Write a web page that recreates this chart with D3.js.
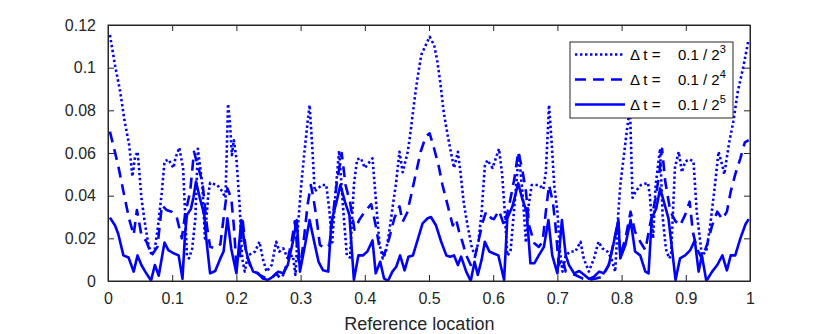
<!DOCTYPE html>
<html>
<head>
<meta charset="utf-8">
<script src="https://cdn.jsdelivr.net/npm/d3@7"></script>
<style>
  body { margin: 0; background: #fff; }
  svg { display: block; font-family: "Liberation Sans", Arial, sans-serif; }
</style>
</head>
<body>
<svg id="chart" width="830" height="334"></svg>
<script>
// x ticks, y ticks
var xTicks = [0, 0.1, 0.2, 0.3, 0.4, 0.5, 0.6, 0.7, 0.8, 0.9, 1];
var yTicks = [0, 0.02, 0.04, 0.06, 0.08, 0.1, 0.12];
var legendLabels = ["3", "4", "5"]; // exponent in 0.1/2^k

// dt = 0.1/2^3  (dotted)
var dotted = [
  [0.003,0.1153],[0.011,0.101],[0.019,0.0888],[0.026,0.0747],[0.033,0.0638],[0.038,0.049],
  [0.042,0.058],[0.046,0.0606],[0.048,0.054],[0.052,0.039],[0.058,0.026],[0.063,0.017],
  [0.068,0.012],[0.073,0.015],[0.078,0.026],[0.084,0.042],[0.088,0.056],[0.094,0.057],
  [0.102,0.053],[0.105,0.0575],[0.111,0.0625],[0.117,0.053],[0.120,0.0325],[0.123,0.012],
  [0.126,0.0106],[0.131,0.015],[0.136,0.029],[0.140,0.062],[0.147,0.045],[0.151,0.020],
  [0.156,0.040],[0.159,0.046],[0.170,0.045],[0.178,0.042],[0.183,0.039],[0.187,0.083],
  [0.190,0.074],[0.193,0.059],[0.196,0.066],[0.200,0.0575],[0.205,0.0356],[0.209,0.0106],
  [0.213,0.0044],[0.218,0.012],[0.229,0.0138],[0.236,0.0184],[0.241,0.0106],[0.247,0.0044],
  [0.255,0.0075],[0.262,0.0184],[0.267,0.0138],[0.273,0.0153],[0.280,0.0106],[0.288,0.012],
  [0.292,0.0028],[0.296,0.026],[0.301,0.045],[0.306,0.0606],[0.311,0.0747],[0.314,0.0825],
  [0.318,0.0638],[0.322,0.042],[0.327,0.0434],[0.333,0.045],[0.340,0.045],[0.345,0.0325],
  [0.349,0.017],[0.354,0.040],[0.360,0.061],[0.366,0.035],[0.372,0.012],[0.377,0.011],
  [0.383,0.045],[0.388,0.057],[0.394,0.0575],[0.400,0.053],[0.412,0.0575],[0.417,0.039],
  [0.423,0.017],[0.428,0.0106],[0.433,0.0138],[0.438,0.023],[0.443,0.034],[0.449,0.0466],
  [0.454,0.0606],[0.459,0.051],[0.467,0.0606],[0.472,0.0716],[0.477,0.084],[0.482,0.095],
  [0.488,0.106],[0.495,0.1106],[0.501,0.1145],[0.508,0.1106],[0.513,0.103],[0.518,0.092],
  [0.523,0.079],[0.529,0.0684],[0.534,0.0606],[0.539,0.053],[0.545,0.0606],[0.549,0.051],
  [0.554,0.037],[0.560,0.026],[0.567,0.0153],[0.572,0.012],[0.577,0.0184],[0.582,0.0325],
  [0.587,0.054],[0.591,0.0567],[0.599,0.053],[0.609,0.062],[0.614,0.050],[0.618,0.0325],
  [0.622,0.012],[0.627,0.0138],[0.633,0.035],[0.640,0.060],[0.646,0.040],[0.651,0.018],
  [0.655,0.035],[0.660,0.045],[0.672,0.045],[0.678,0.043],[0.682,0.051],[0.687,0.0825],
  [0.691,0.065],[0.695,0.045],[0.700,0.0325],[0.704,0.0138],[0.708,0.0044],[0.713,0.012],
  [0.720,0.0138],[0.728,0.0138],[0.736,0.0184],[0.741,0.0106],[0.749,0.0044],[0.757,0.0106],
  [0.764,0.0184],[0.770,0.0153],[0.778,0.0138],[0.784,0.0106],[0.790,0.0044],[0.795,0.0325],
  [0.798,0.045],[0.806,0.065],[0.813,0.082],[0.817,0.039],[0.822,0.042],[0.830,0.045],
  [0.841,0.046],[0.844,0.040],[0.849,0.020],[0.853,0.045],[0.860,0.062],[0.864,0.030],
  [0.869,0.015],[0.874,0.0106],[0.877,0.012],[0.883,0.053],[0.889,0.0606],[0.894,0.051],
  [0.899,0.056],[0.906,0.057],[0.912,0.056],[0.917,0.0325],[0.925,0.012],[0.932,0.014],
  [0.938,0.026],[0.946,0.0466],[0.951,0.0606],[0.957,0.054],[0.960,0.050],[0.967,0.064],
  [0.974,0.0747],[0.981,0.0888],[0.990,0.101],[0.997,0.112]
];

// dt = 0.1/2^4  (dashed)
var dashed = [
  [0.003,0.070],[0.016,0.054],[0.024,0.042],[0.033,0.029],[0.040,0.0216],[0.045,0.0333],
  [0.052,0.0216],[0.060,0.0184],[0.068,0.012],[0.077,0.016],[0.084,0.0356],[0.091,0.0333],
  [0.099,0.0325],[0.107,0.030],[0.115,0.020],[0.120,0.031],[0.128,0.042],[0.134,0.0606],
  [0.141,0.0528],[0.147,0.0466],[0.154,0.026],[0.159,0.016],[0.167,0.0153],[0.175,0.0172],
  [0.180,0.0294],[0.186,0.0434],[0.192,0.0388],[0.196,0.026],[0.200,0.0075],[0.205,0.0106],
  [0.210,0.028],[0.215,0.0138],[0.221,0.0075],[0.227,0.005],[0.236,0.0028],[0.247,0.0012],
  [0.255,0.0016],[0.262,0.0036],[0.270,0.0005],[0.278,0.0075],[0.286,0.0184],[0.291,0.028],
  [0.296,0.0106],[0.300,0.0075],[0.306,0.022],[0.311,0.036],[0.316,0.045],[0.320,0.0388],
  [0.325,0.029],[0.330,0.017],[0.337,0.0153],[0.345,0.017],[0.350,0.030],[0.356,0.045],
  [0.364,0.060],[0.370,0.045],[0.377,0.037],[0.384,0.024],[0.392,0.029],[0.400,0.0325],
  [0.410,0.036],[0.417,0.026],[0.423,0.0153],[0.430,0.012],[0.438,0.020],[0.446,0.0294],
  [0.454,0.035],[0.459,0.0278],[0.466,0.032],[0.472,0.040],[0.480,0.051],[0.487,0.0606],
  [0.495,0.0677],[0.501,0.0692],[0.508,0.062],[0.515,0.054],[0.521,0.045],[0.529,0.0356],
  [0.537,0.026],[0.542,0.029],[0.547,0.023],[0.552,0.0184],[0.558,0.012],[0.565,0.0075],
  [0.571,0.0106],[0.578,0.020],[0.584,0.028],[0.589,0.0325],[0.597,0.0294],[0.601,0.029],
  [0.609,0.033],[0.617,0.026],[0.625,0.0356],[0.633,0.048],[0.639,0.0606],[0.645,0.0528],
  [0.651,0.042],[0.656,0.026],[0.664,0.0177],[0.671,0.016],[0.677,0.0184],[0.682,0.0325],
  [0.687,0.045],[0.693,0.037],[0.697,0.026],[0.702,0.0075],[0.708,0.0106],[0.713,0.0044],
  [0.728,0.0028],[0.739,0.0012],[0.749,0.0005],[0.760,0.0012],[0.770,0.002],[0.780,0.0075],
  [0.788,0.0184],[0.795,0.028],[0.798,0.012],[0.806,0.020],[0.814,0.0325],[0.821,0.023],
  [0.829,0.0184],[0.837,0.0145],[0.844,0.026],[0.853,0.0388],[0.859,0.0512],[0.863,0.062],
  [0.868,0.0466],[0.876,0.0325],[0.884,0.028],[0.891,0.026],[0.899,0.031],[0.906,0.0372],
  [0.911,0.023],[0.917,0.0153],[0.925,0.0106],[0.933,0.017],[0.941,0.026],[0.949,0.0325],
  [0.957,0.029],[0.964,0.0325],[0.970,0.042],[0.977,0.050],[0.985,0.0575],[0.992,0.065],
  [0.998,0.066]
];

// dt = 0.1/2^5  (solid)
var solid = [
  [0.003,0.0297],[0.011,0.026],[0.016,0.022],[0.024,0.012],[0.032,0.011],[0.040,0.0044],
  [0.046,0.012],[0.052,0.0075],[0.058,0.0044],[0.067,0.0002],[0.073,0.0075],[0.079,0.0025],
  [0.088,0.018],[0.094,0.0145],[0.102,0.013],[0.110,0.012],[0.116,0.001],[0.120,0.022],
  [0.123,0.031],[0.129,0.0337],[0.133,0.039],[0.137,0.0466],[0.143,0.039],[0.150,0.031],
  [0.153,0.020],[0.159,0.0036],[0.167,0.0047],[0.175,0.0106],[0.180,0.0138],[0.186,0.0294],
  [0.192,0.015],[0.200,0.0036],[0.2077,0.0286],[0.213,0.017],[0.218,0.0106],[0.226,0.0044],
  [0.234,0.0036],[0.241,0.0012],[0.249,0.0005],[0.257,0.002],[0.265,0.0044],[0.273,0.0036],
  [0.280,0.0075],[0.288,0.0184],[0.294,0.0286],[0.299,0.0044],[0.307,0.017],[0.314,0.0286],
  [0.320,0.020],[0.328,0.009],[0.335,0.005],[0.343,0.0044],[0.348,0.0278],[0.356,0.0372],
  [0.362,0.045],[0.369,0.0372],[0.376,0.031],[0.383,0.0005],[0.390,0.012],[0.397,0.012],
  [0.404,0.0138],[0.412,0.019],[0.417,0.0036],[0.424,0.009],[0.430,0.0012],[0.436,0.0],
  [0.443,0.0044],[0.449,0.0067],[0.455,0.012],[0.462,0.005],[0.468,0.0114],[0.475,0.012],
  [0.483,0.020],[0.490,0.027],[0.498,0.0294],[0.503,0.030],[0.511,0.026],[0.519,0.0184],
  [0.527,0.012],[0.533,0.0114],[0.539,0.012],[0.545,0.0075],[0.550,0.0114],[0.558,0.0044],
  [0.565,0.0],[0.571,0.009],[0.576,0.0028],[0.582,0.010],[0.587,0.0184],[0.594,0.0138],
  [0.600,0.013],[0.608,0.012],[0.617,0.0005],[0.622,0.0294],[0.630,0.035],[0.639,0.0458],
  [0.645,0.0388],[0.652,0.0325],[0.658,0.0083],[0.664,0.0083],[0.671,0.012],[0.679,0.016],
  [0.686,0.0286],[0.692,0.012],[0.700,0.0036],[0.707,0.0286],[0.713,0.012],[0.718,0.0075],
  [0.726,0.0036],[0.734,0.0047],[0.741,0.003],[0.749,0.001],[0.757,0.002],[0.765,0.0044],
  [0.772,0.0036],[0.780,0.0075],[0.788,0.0184],[0.795,0.0286],[0.798,0.0106],[0.806,0.017],
  [0.814,0.0286],[0.821,0.0138],[0.829,0.012],[0.837,0.0044],[0.842,0.0036],[0.847,0.0294],
  [0.854,0.034],[0.860,0.0434],[0.866,0.037],[0.873,0.0294],[0.879,0.0138],[0.884,0.0005],
  [0.891,0.0106],[0.899,0.012],[0.907,0.0145],[0.914,0.019],[0.920,0.0044],[0.925,0.012],
  [0.932,0.0],[0.941,0.0044],[0.949,0.0075],[0.957,0.012],[0.964,0.005],[0.970,0.012],
  [0.977,0.012],[0.985,0.020],[0.993,0.0266],[0.998,0.029]
];

var svg = d3.select("#chart");
var margin = {left: 108, top: 25, right: 80, bottom: 53};
var width = 830 - margin.left - margin.right;   // 642
var height = 334 - margin.top - margin.bottom;  // 256
var axisColor = "#262626";
var blue = "#0000ff";

var x = d3.scaleLinear().domain([0, 1]).range([0, width]);
var y = d3.scaleLinear().domain([0, 0.12]).range([height, 0]);

var g = svg.append("g").attr("transform", `translate(${margin.left},${margin.top})`);

g.append("defs").append("clipPath").attr("id", "clip")
  .append("rect").attr("width", width).attr("height", height);

// series
var styles = [
  {data: dotted, dash: "2.4,2.6", w: 2.6},
  {data: dashed, dash: "11,7", w: 2.6},
  {data: solid,  dash: null,   w: 2.6}
];
var line = d3.line().x(d => x(d[0])).y(d => y(d[1]));

g.append("g").attr("clip-path", "url(#clip)")
  .selectAll("path")
  .data(styles)
  .join("path")
  .attr("d", d => line(d.data))
  .attr("fill", "none")
  .attr("stroke", blue)
  .attr("stroke-width", d => d.w)
  .attr("stroke-linejoin", "round")
  .attr("stroke-dasharray", d => d.dash);

// axes (MATLAB style: ticks inside, box all round)
var fmt = d => d3.format("~g")(d);
var tl = 6;

var xAxis = g.append("g").attr("transform", `translate(0,${height})`)
  .call(d3.axisBottom(x).tickValues(xTicks).tickFormat(fmt).tickSizeInner(-tl).tickSizeOuter(0).tickPadding(12));
var yAxis = g.append("g")
  .call(d3.axisLeft(y).tickValues(yTicks).tickFormat(fmt).tickSizeInner(-tl).tickSizeOuter(0).tickPadding(12));
g.append("g")
  .call(d3.axisTop(x).tickValues(xTicks).tickFormat("").tickSizeInner(-tl).tickSizeOuter(0));
g.append("g").attr("transform", `translate(${width},0)`)
  .call(d3.axisRight(y).tickValues(yTicks).tickFormat("").tickSizeInner(-tl).tickSizeOuter(0));

g.selectAll(".domain").attr("stroke", axisColor);
g.selectAll(".tick line").attr("stroke", axisColor);
g.selectAll(".tick text").attr("fill", "#262626").style("font-size", "16px")
  .style("font-family", "'Liberation Sans', Arial, sans-serif");

g.append("rect").attr("width", width).attr("height", height)
  .attr("fill", "none").attr("stroke", axisColor).attr("stroke-width", 1);

// x label
g.append("text")
  .attr("x", x(0.485)).attr("y", height + 49)
  .attr("text-anchor", "middle")
  .attr("fill", "#262626")
  .style("font-size", "18px")
  .text("Reference location");

// legend
var lg = svg.append("g").attr("transform", "translate(570,42)");
lg.append("rect").attr("width", 163).attr("height", 76)
  .attr("fill", "#fff").attr("stroke", axisColor).attr("stroke-width", 1);

var rows = lg.selectAll("g.row")
  .data(styles)
  .join("g")
  .attr("class", "row")
  .attr("transform", (d, i) => `translate(0,${12.5 + i * 25})`);

rows.append("line")
  .attr("x1", 5).attr("x2", 55).attr("y1", 0).attr("y2", 0)
  .attr("stroke", blue)
  .attr("stroke-width", d => d.w)
  .attr("stroke-dasharray", d => d.dash);

var txt = rows.append("text")
  .attr("x", 60).attr("y", 5)
  .attr("fill", "#000")
  .style("font-size", "15px");
txt.append("tspan").text("\u0394 t =");
txt.append("tspan").attr("x", 108).text("0.1 / 2");
txt.append("tspan").attr("dy", -7).style("font-size", "11px")
  .text((d, i) => legendLabels[i]);
</script>
</body>
</html>
